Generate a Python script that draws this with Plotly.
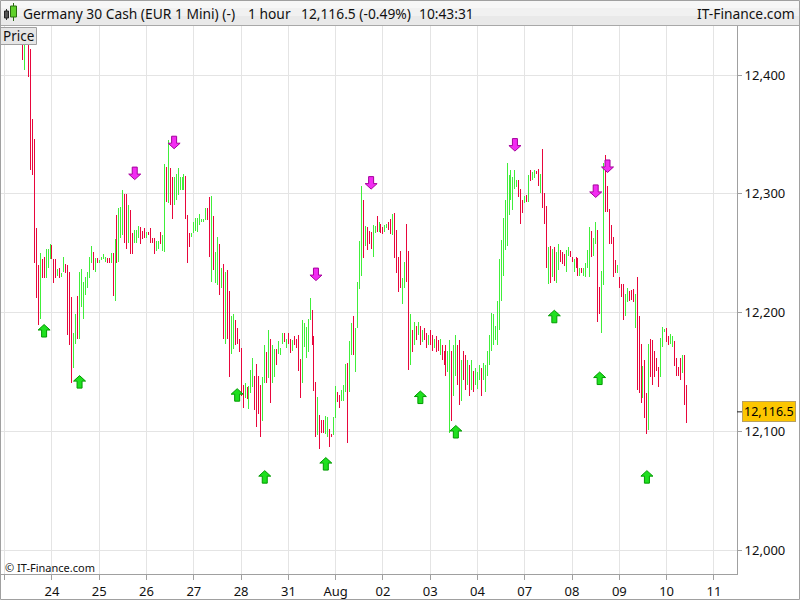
import plotly.graph_objects as go

# ---------------- data ----------------
# Hourly bars of "Germany 30 Cash", hour index counted from Fri 21 Jul 2017 00:00,
# 24 bars per trading day (weekends removed).
FIRST_HOUR = 9

highs = [
    12438, 12438, 12439, 12434, 12422, 12363, 12346, 12271, 12240, 12250,
    12245, 12247, 12254, 12254, 12258, 12257, 12245, 12245, 12237, 12238,
    12233, 12247, 12241, 12240, 12234, 12213, 12183, 12199, 12214, 12234,
    12237, 12226, 12230, 12234, 12247, 12256, 12251, 12246, 12246, 12244,
    12247, 12249, 12247, 12246, 12246, 12250, 12250, 12262, 12282, 12288,
    12289, 12303, 12300, 12300, 12291, 12286, 12267, 12270, 12270, 12273,
    12272, 12269, 12271, 12268, 12268, 12271, 12263, 12263, 12260, 12260,
    12268, 12265, 12325, 12323, 12345, 12322, 12314, 12314, 12317, 12322,
    12314, 12314, 12317, 12315, 12282, 12267, 12267, 12276, 12280, 12280,
    12283, 12279, 12279, 12288, 12288, 12297, 12298, 12281, 12251, 12264,
    12258, 12238, 12241, 12234, 12236, 12218, 12197, 12199, 12194, 12187,
    12178, 12170, 12139, 12141, 12137, 12138, 12152, 12162, 12147, 12157,
    12147, 12139, 12146, 12173, 12167, 12185, 12178, 12173, 12169, 12169,
    12176, 12170, 12183, 12183, 12178, 12183, 12178, 12177, 12180, 12178,
    12181, 12161, 12194, 12191, 12188, 12195, 12212, 12202, 12180, 12142,
    12129, 12114, 12110, 12110, 12113, 12112, 12102, 12098, 12112, 12138,
    12133, 12131, 12135, 12139, 12157, 12158, 12176, 12191, 12197, 12187,
    12226, 12260, 12307, 12295, 12273, 12272, 12269, 12268, 12274, 12273,
    12281, 12276, 12275, 12272, 12274, 12275, 12276, 12279, 12283, 12284,
    12270, 12247, 12252, 12229, 12243, 12275, 12252, 12199, 12185, 12192,
    12189, 12192, 12189, 12185, 12187, 12183, 12181, 12185, 12181, 12178,
    12180, 12177, 12178, 12173, 12168, 12173, 12168, 12177, 12168, 12173,
    12181, 12173, 12177, 12160, 12168, 12164, 12160, 12156, 12160, 12151,
    12153, 12150, 12156, 12153, 12158, 12156, 12168, 12181, 12200, 12199,
    12189, 12210, 12245, 12261, 12280, 12295, 12326, 12316, 12320, 12314,
    12320, 12312, 12312, 12304, 12295, 12298, 12299, 12316, 12320, 12318,
    12320, 12319, 12321, 12317, 12338, 12301, 12290, 12255, 12256, 12254,
    12255, 12251, 12258, 12253, 12251, 12249, 12253, 12255, 12252, 12247,
    12245, 12247, 12246, 12238, 12238, 12238, 12242, 12253, 12272, 12269,
    12263, 12276, 12270, 12222, 12235, 12326, 12333, 12307, 12287, 12274,
    12264, 12244, 12240, 12230, 12224, 12224, 12216, 12221, 12218, 12219,
    12220, 12216, 12230, 12197, 12174, 12155, 12160, 12132, 12174, 12178,
    12177, 12168, 12162, 12154, 12179, 12188, 12186, 12187, 12180, 12182,
    12180, 12176, 12162, 12154, 12162, 12164, 12164, 12139,
]

lows = [
    12413, 12404, 12429, 12398, 12320, 12316, 12242, 12212, 12190, 12195,
    12229, 12229, 12229, 12238, 12245, 12245, 12225, 12229, 12231, 12229,
    12230, 12234, 12233, 12181, 12173, 12141, 12153, 12174, 12178, 12178,
    12205, 12195, 12215, 12221, 12229, 12242, 12236, 12234, 12242, 12242,
    12244, 12245, 12243, 12242, 12242, 12242, 12214, 12210, 12242, 12243,
    12263, 12265, 12259, 12254, 12259, 12249, 12249, 12259, 12259, 12263,
    12258, 12262, 12263, 12263, 12265, 12259, 12259, 12249, 12252, 12254,
    12258, 12252, 12251, 12293, 12292, 12291, 12279, 12291, 12295, 12299,
    12303, 12303, 12303, 12279, 12242, 12255, 12264, 12267, 12269, 12268,
    12274, 12276, 12276, 12278, 12278, 12247, 12226, 12236, 12225, 12223,
    12215, 12221, 12178, 12174, 12178, 12146, 12165, 12169, 12173, 12174,
    12167, 12130, 12120, 12128, 12127, 12119, 12132, 12137, 12118, 12104,
    12115, 12095, 12109, 12141, 12141, 12145, 12124, 12141, 12146, 12156,
    12165, 12164, 12174, 12175, 12170, 12174, 12166, 12168, 12173, 12170,
    12151, 12128, 12141, 12171, 12162, 12167, 12194, 12173, 12134, 12095,
    12097, 12085, 12099, 12099, 12098, 12095, 12087, 12095, 12097, 12111,
    12125, 12120, 12126, 12126, 12133, 12090, 12133, 12164, 12164, 12150,
    12187, 12220, 12231, 12246, 12256, 12253, 12258, 12254, 12247, 12267,
    12268, 12268, 12267, 12266, 12268, 12271, 12270, 12266, 12265, 12246,
    12233, 12217, 12221, 12207, 12221, 12226, 12152, 12156, 12167, 12173,
    12177, 12181, 12173, 12175, 12177, 12170, 12173, 12173, 12168, 12170,
    12167, 12168, 12164, 12160, 12156, 12147, 12150, 12099, 12109, 12130,
    12147, 12139, 12122, 12126, 12143, 12135, 12139, 12130, 12135, 12133,
    12139, 12136, 12143, 12130, 12143, 12133, 12147, 12156, 12168, 12173,
    12177, 12173, 12185, 12210, 12231, 12253, 12256, 12282, 12295, 12286,
    12304, 12306, 12297, 12275, 12284, 12292, 12293, 12293, 12311, 12312,
    12313, 12317, 12307, 12301, 12288, 12275, 12238, 12224, 12225, 12230,
    12227, 12225, 12236, 12243, 12241, 12239, 12234, 12248, 12247, 12243,
    12234, 12238, 12231, 12231, 12233, 12231, 12230, 12238, 12230, 12247,
    12248, 12258, 12192, 12199, 12183, 12223, 12285, 12285, 12258, 12258,
    12230, 12233, 12233, 12221, 12213, 12194, 12197, 12209, 12210, 12211,
    12209, 12187, 12135, 12132, 12124, 12128, 12111, 12098, 12101, 12146,
    12139, 12146, 12151, 12137, 12146, 12171, 12184, 12175, 12173, 12174,
    12171, 12155, 12147, 12147, 12143, 12149, 12122, 12107,
]

# u = close above open (green), d = close below open (red)
dirs = (
    "dudddddddu" "dduuudddud" "uudddduudu" "uuuuuududu" "uuuddududu"
    "uuddudduuu" "dddudddduu" "duududduuu" "uuuddduuuu" "uuuudduduu"
    "dududduudd" "ddduduuudd" "dduududuud" "uuududdudd" "dduuuuuddd"
    "uddduudduu" "dduuuduudu" "uuududdduu" "dudduuddud" "ddduuddudu"
    "dududduddu" "dduddduudu" "udduddudud" "uuuduuuuuu" "uuuuuuuuuu"
    "uudddududu" "uddudddudu" "duuddduudd" "udduduuuud" "uudduudddd"
    "dduddduudd" "duddduddud" "dddduuuddu" "uddddudd"
)

LAST_PRICE = 12116.5

# buy / sell signal arrows (bar hour, price at arrow tip)
buy_hours = [20, 38, 118, 132, 163, 211, 229, 279, 302, 326]
buy_prices = [12190, 12147, 12136, 12067, 12078, 12134, 12105, 12202, 12150, 12067]
sell_hours = [66, 86, 158, 186, 259, 300, 306]
sell_prices = [12312, 12338, 12227, 12304, 12336, 12297, 12318]

day_labels = ["", "24", "25", "26", "27", "28", "31", "Aug", "02", "03",
              "04", "07", "08", "09", "10", "11"]
BARS_PER_DAY = 24
price_levels = [12000, 12100, 12200, 12300, 12400]

assert len(highs) == len(lows) == len(dirs), (len(highs), len(lows), len(dirs))
hours = list(range(FIRST_HOUR, FIRST_HOUR + len(highs)))

# ---------------- styling / layout ----------------
FONT = "Noto Sans"
UP_COL = "#40ee3a"
DN_COL = "#e8063c"
W, H = 800, 600
ML, MR, MT, MB = 0, 63, 26, 26
PW, PH = W - ML - MR, H - MT - MB


def pxx(x):
    return (x - ML) / PW


def pxy(y):
    return (H - MB - y) / PH


def segments(flag):
    xs, ys = [], []
    for h, hi, lo, d in zip(hours, highs, lows, dirs):
        if d == flag:
            xs += [h, h, None]
            ys += [lo, hi, None]
    return xs, ys


fig = go.Figure()
for flag, col in (("u", UP_COL), ("d", DN_COL)):
    xs, ys = segments(flag)
    fig.add_trace(go.Scatter(x=xs, y=ys, mode="lines",
                             line=dict(color=col, width=1),
                             hoverinfo="skip", showlegend=False))

shapes = []
# signal arrows, drawn in pixels around their data anchor
up_path = "M0,0 L6,-5.5 L2.5,-5.5 L2.5,-12.5 L-2.5,-12.5 L-2.5,-5.5 L-6,-5.5 Z"
dn_path = "M0,0 L6,5.5 L2.5,5.5 L2.5,12.5 L-2.5,12.5 L-2.5,5.5 L-6,5.5 Z"
for h, p in zip(buy_hours, buy_prices):
    shapes.append(dict(type="path", xref="x", yref="y", xsizemode="pixel",
                       ysizemode="pixel", xanchor=h, yanchor=p, path=up_path,
                       fillcolor="#1fe01f", line=dict(color="#009a00", width=1),
                       layer="above"))
for h, p in zip(sell_hours, sell_prices):
    shapes.append(dict(type="path", xref="x", yref="y", xsizemode="pixel",
                       ysizemode="pixel", xanchor=h, yanchor=p, path=dn_path,
                       fillcolor="#f22cf2", line=dict(color="#a6009c", width=1),
                       layer="above"))

# title bar (soft gradient imitation)
bands = [("#f7f7f7", 0, 8), ("#f1f1f1", 8, 16), ("#e9e9e9", 16, 25)]
for col, y0, y1 in bands:
    shapes.append(dict(type="rect", xref="paper", yref="paper",
                       x0=pxx(0), x1=pxx(W), y0=pxy(y1), y1=pxy(y0),
                       fillcolor=col, line=dict(width=0), layer="above"))
shapes.append(dict(type="line", xref="paper", yref="paper", x0=pxx(0), x1=pxx(W),
                   y0=pxy(25.5), y1=pxy(25.5), line=dict(color="#a8a8a8", width=1),
                   layer="above"))
# little candlestick icon
shapes += [
    dict(type="line", xref="paper", yref="paper", x0=pxx(6.5), x1=pxx(6.5),
         y0=pxy(20), y1=pxy(9), line=dict(color="#333333", width=1), layer="above"),
    dict(type="rect", xref="paper", yref="paper", x0=pxx(4.5), x1=pxx(8.5),
         y0=pxy(18), y1=pxy(11), fillcolor="#555555",
         line=dict(color="#222222", width=1), layer="above"),
    dict(type="line", xref="paper", yref="paper", x0=pxx(13.5), x1=pxx(13.5),
         y0=pxy(21), y1=pxy(3), line=dict(color="#2a6a10", width=1), layer="above"),
    dict(type="rect", xref="paper", yref="paper", x0=pxx(10.5), x1=pxx(16.5),
         y0=pxy(17), y1=pxy(6), fillcolor="#5fd02a",
         line=dict(color="#2a6a10", width=1), layer="above"),
]
# "Price" tab
shapes.append(dict(type="rect", xref="paper", yref="paper", x0=pxx(0.5), x1=pxx(36.5),
                   y0=pxy(44.5), y1=pxy(27.5), fillcolor="#e6e6e6",
                   line=dict(color="#a0a0a0", width=1), layer="above"))
# last price tick on the right axis
shapes.append(dict(type="line", xref="paper", yref="y", x0=pxx(737), x1=pxx(742),
                   y0=LAST_PRICE, y1=LAST_PRICE, line=dict(color="#222222", width=1),
                   layer="above"))
# outer frame
shapes.append(dict(type="rect", xref="paper", yref="paper", x0=pxx(0.5), x1=pxx(799.5),
                   y0=pxy(599.5), y1=pxy(0.5), line=dict(color="#a0a0a0", width=1),
                   fillcolor="rgba(0,0,0,0)", layer="above"))

title_font = dict(family=FONT, size=13.8, color="#111111")
annotations = [
    dict(text="Germany 30 Cash (EUR 1 Mini) (-)", x=pxx(21), y=pxy(13), xanchor="left"),
    dict(text="1 hour", x=pxx(246), y=pxy(13), xanchor="left"),
    dict(text="12,116.5 (-0.49%)", x=pxx(299), y=pxy(13), xanchor="left"),
    dict(text="10:43:31", x=pxx(417), y=pxy(13), xanchor="left"),
    dict(text="IT-Finance.com", x=pxx(797), y=pxy(13), xanchor="right"),
]
for a in annotations:
    a.update(xref="paper", yref="paper", yanchor="middle", showarrow=False,
             font=title_font)
annotations.append(dict(text="Price", x=pxx(18.5), y=pxy(36), xref="paper", yref="paper",
                        xanchor="center", yanchor="middle", showarrow=False,
                        font=dict(family=FONT, size=13.5, color="#111111")))
annotations.append(dict(text="© IT-Finance.com", x=pxx(3), y=pxy(567), xref="paper",
                        yref="paper", xanchor="left", yanchor="middle", showarrow=False,
                        font=dict(family=FONT, size=11, color="#111111")))
annotations.append(dict(text=f"{LAST_PRICE:,.1f}", x=pxx(742), y=LAST_PRICE,
                        xref="paper", yref="y", xanchor="left", yanchor="middle",
                        showarrow=False, bgcolor="#fcc600", bordercolor="#b8a060",
                        borderwidth=1, borderpad=1,
                        font=dict(family=FONT, size=12.5, color="#000000")))

x_lo = -4.7 / 1.97
x_hi = (737 - 4.7) / 1.97

fig.update_layout(
    width=W, height=H,
    margin=dict(l=ML, r=MR, t=MT, b=MB, pad=0),
    paper_bgcolor="white", plot_bgcolor="white",
    showlegend=False,
    font=dict(family=FONT, size=13, color="#111111"),
    xaxis=dict(range=[x_lo, x_hi], tickmode="array",
               tickvals=[BARS_PER_DAY * k for k in range(len(day_labels))],
               ticktext=day_labels, showgrid=True, gridcolor="#e4e4e4",
               gridwidth=1, zeroline=False, showline=True, linecolor="#a0a0a0",
               ticks="outside", ticklen=5, tickcolor="#a0a0a0",
               tickfont=dict(family=FONT, size=13, color="#111111"),
               fixedrange=True),
    yaxis=dict(side="right", range=[11980, 12441.3], tickmode="array",
               tickvals=price_levels, ticktext=[f"{v:,}" for v in price_levels],
               showgrid=True, gridcolor="#e4e4e4", gridwidth=1, zeroline=False,
               showline=True, linecolor="#a0a0a0", ticks="outside", ticklen=4,
               tickcolor="#a0a0a0",
               tickfont=dict(family=FONT, size=13, color="#111111"),
               fixedrange=True),
    shapes=shapes,
    annotations=annotations,
)

post = (
    "document.body.style.margin='0';document.body.style.padding='0';"
    "var st=document.createElement('style');"
    "st.textContent='.js-line{shape-rendering:crispEdges;}';"
    "document.head.appendChild(st);"
)
fig.write_html("out.html", config={"displayModeBar": False}, post_script=post)
